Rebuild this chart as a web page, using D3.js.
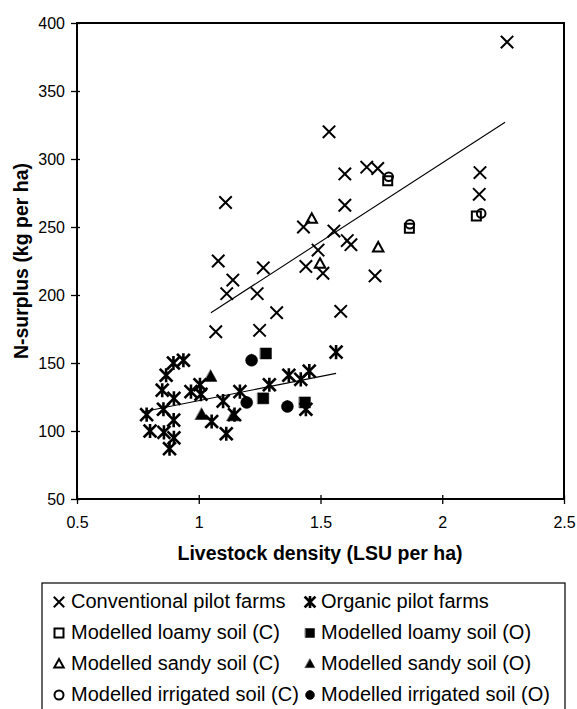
<!DOCTYPE html>
<html>
<head>
<meta charset="utf-8">
<script src="https://cdn.jsdelivr.net/npm/d3@7"></script>
<style>
  body { margin: 0; background: #fff; }
  text { font-family: Arial, "Liberation Sans", sans-serif; fill: #000; }
</style>
</head>
<body>
<div id="chart"></div>
<script>
// values
var xTicks = [0.5, 1, 1.5, 2, 2.5];
var yTicks = [50, 100, 150, 200, 250, 300, 350, 400];

var convX = [1.07, 1.08, 1.11, 1.115, 1.14, 1.24, 1.25, 1.265, 1.32, 1.43, 1.44, 1.49, 1.51, 1.535, 1.555, 1.583, 1.60, 1.60, 1.61, 1.625, 1.69, 1.735, 1.724, 2.155, 2.152, 2.266];
var convY = [173, 225, 268, 201, 211, 201, 174, 220, 187, 250, 221, 233, 216, 320, 247, 188, 289, 266, 240, 237, 294, 293, 214, 290, 274, 386];

var orgX = [0.786, 0.80, 0.85, 0.866, 0.896, 0.937, 0.855, 0.898, 0.897, 0.857, 0.898, 0.880, 0.968, 1.005, 1.009, 1.053, 1.10, 1.113, 1.169, 1.147, 1.29, 1.37, 1.419, 1.454, 1.564, 1.44];
var orgY = [112, 100, 130, 141, 150, 152, 116, 124, 108, 99, 95, 87, 129, 134, 127, 107, 122, 98, 129, 112, 134, 141, 138, 144, 158, 116];

var loamCX = [1.776, 1.865, 2.14];
var loamCY = [284, 249, 258];
var loamOX = [1.276, 1.265, 1.436];
var loamOY = [157, 124, 121];
var sandCX = [1.464, 1.498, 1.737];
var sandCY = [256, 223, 235];
var sandOX = [1.049, 1.012, 1.142];
var sandOY = [140, 112, 111];
var irrCX = [1.78, 1.867, 2.16];
var irrCY = [287, 252, 260];
var irrOX = [1.217, 1.197, 1.364];
var irrOY = [152, 121, 118];

// trend lines, start and end
var convTrendX = [1.05, 2.258];
var convTrendY = [187, 327];
var orgTrendX = [0.766, 1.564];
var orgTrendY = [114, 142.4];

var legendLabels = ['Conventional pilot farms', 'Organic pilot farms',
  'Modelled loamy soil (C)', 'Modelled loamy soil (O)',
  'Modelled sandy soil (C)', 'Modelled sandy soil (O)',
  'Modelled irrigated soil (C)', 'Modelled irrigated soil (O)'];
var legendKinds = ['cross', 'star', 'square', 'squareF', 'tri', 'triF', 'circle', 'circleF'];

var W = 577, H = 709;
// plot box (don't call these top/left, window.top is read only)
var pL = 77, pR = 564, pT = 23, pB = 499;

var x = d3.scaleLinear().domain([0.5, 2.5]).range([pL, pR]);
var y = d3.scaleLinear().domain([50, 400]).range([pB, pT]);

var svg = d3.select('#chart').append('svg')
  .attr('width', W)
  .attr('height', H);

// marker paths, s = half size
var shape = function(kind, s){
  if(kind == 'cross' || kind == 'star'){
    var p = 'M' + (-s) + ',' + (-s) + 'L' + s + ',' + s + 'M' + s + ',' + (-s) + 'L' + (-s) + ',' + s;
    if(kind == 'star') p += 'M0,' + (-s * 1.05) + 'L0,' + (s * 1.05);
    return p;
  }
  if(kind == 'square' || kind == 'squareF'){
    return 'M' + (-s) + ',' + (-s) + 'H' + s + 'V' + s + 'H' + (-s) + 'Z';
  }
  if(kind == 'tri' || kind == 'triF'){
    return 'M0,' + (-s * 1.1) + 'L' + (s * 1.05) + ',' + (s * 0.8) + 'L' + (-s * 1.05) + ',' + (s * 0.8) + 'Z';
  }
  return d3.arc()({innerRadius: 0, outerRadius: s, startAngle: 0, endAngle: 2 * Math.PI});
};

var styleMark = function(sel, kind){
  var filled = kind.slice(-1) == 'F';
  sel.attr('fill', filled ? '#000' : 'none')
    .attr('stroke', '#000')
    .attr('stroke-width', kind == 'star' ? 2.6 : (filled ? 0.5 : 2))
    .attr('stroke-linecap', 'square');
};

// frame
svg.append('rect')
  .attr('x', pL).attr('y', pT)
  .attr('width', pR - pL).attr('height', pB - pT)
  .attr('fill', 'none').attr('stroke', '#000').attr('stroke-width', 2);

// axes
var xAxis = d3.axisBottom(x).tickValues(xTicks).tickSizeInner(5).tickSizeOuter(0)
  .tickFormat(function(d){ return d3.format('')(d); });
var gx = svg.append('g').attr('transform', 'translate(0,' + pB + ')').call(xAxis);
gx.select('.domain').remove();
gx.selectAll('.tick line').attr('y1', -4).attr('stroke-width', 1.3);
gx.selectAll('.tick text').attr('font-size', 16).attr('dy', 0).attr('y', 29)
  .style('font-family', 'Arial, "Liberation Sans", sans-serif');

var yAxis = d3.axisLeft(y).tickValues(yTicks).tickSizeInner(6).tickSizeOuter(0).tickPadding(6);
var gy = svg.append('g').attr('transform', 'translate(' + pL + ',0)').call(yAxis);
gy.select('.domain').remove();
gy.selectAll('.tick line').attr('x1', 3).attr('stroke-width', 1.3);
gy.selectAll('.tick text').attr('font-size', 16).attr('x', -12).attr('dy', '0.36em')
  .style('font-family', 'Arial, "Liberation Sans", sans-serif');

// axis titles
svg.append('text')
  .attr('x', 320).attr('y', 560)
  .attr('text-anchor', 'middle')
  .attr('font-size', 19.5).attr('font-weight', 'bold')
  .text('Livestock density (LSU per ha)');
svg.append('text')
  .attr('transform', 'translate(28,' + ((pT + pB) / 2) + ') rotate(-90)')
  .attr('text-anchor', 'middle')
  .attr('font-size', 19.5).attr('font-weight', 'bold')
  .text('N-surplus (kg per ha)');

// trend lines
var line = d3.line().x(function(d){ return x(d[0]); }).y(function(d){ return y(d[1]); });
svg.append('path').attr('d', line(d3.zip(convTrendX, convTrendY)))
  .attr('fill', 'none').attr('stroke', '#000').attr('stroke-width', 1.1);
svg.append('path').attr('d', line(d3.zip(orgTrendX, orgTrendY)))
  .attr('fill', 'none').attr('stroke', '#000').attr('stroke-width', 1.1);

// points
var series = [
  {kind: 'cross', xs: convX, ys: convY, s: 5.5},
  {kind: 'star', xs: orgX, ys: orgY, s: 5.5},
  {kind: 'square', xs: loamCX, ys: loamCY, s: 4.5},
  {kind: 'squareF', xs: loamOX, ys: loamOY, s: 5.5},
  {kind: 'tri', xs: sandCX, ys: sandCY, s: 5},
  {kind: 'triF', xs: sandOX, ys: sandOY, s: 6},
  {kind: 'circle', xs: irrCX, ys: irrCY, s: 4.3},
  {kind: 'circleF', xs: irrOX, ys: irrOY, s: 6}
];
series.forEach(function(ser){
  svg.append('g').selectAll('path').data(d3.zip(ser.xs, ser.ys))
    .enter().append('path')
    .attr('d', shape(ser.kind, ser.s))
    .attr('transform', function(d){ return 'translate(' + x(d[0]) + ',' + y(d[1]) + ')'; })
    .call(styleMark, ser.kind);
});

// legend
svg.append('rect')
  .attr('x', 42).attr('y', 583)
  .attr('width', 565 - 42).attr('height', 140)
  .attr('fill', 'none').attr('stroke', '#000').attr('stroke-width', 1.2);
var rowY = [601, 632, 663, 694];
var colMark = [59, 310];
var colText = [71, 321];
var leg = svg.append('g').selectAll('g').data(legendLabels)
  .enter().append('g')
  .attr('transform', function(d, i){ return 'translate(0,' + rowY[Math.floor(i / 2)] + ')'; });
leg.append('path')
  .attr('d', function(d, i){ return shape(legendKinds[i], 4.5); })
  .attr('transform', function(d, i){ return 'translate(' + colMark[i % 2] + ',1)'; })
  .each(function(d, i){ d3.select(this).call(styleMark, legendKinds[i]); });
leg.append('text')
  .attr('x', function(d, i){ return colText[i % 2]; })
  .attr('dy', '0.36em')
  .attr('font-size', 20)
  .text(function(d){ return d; });
</script>
</body>
</html>
